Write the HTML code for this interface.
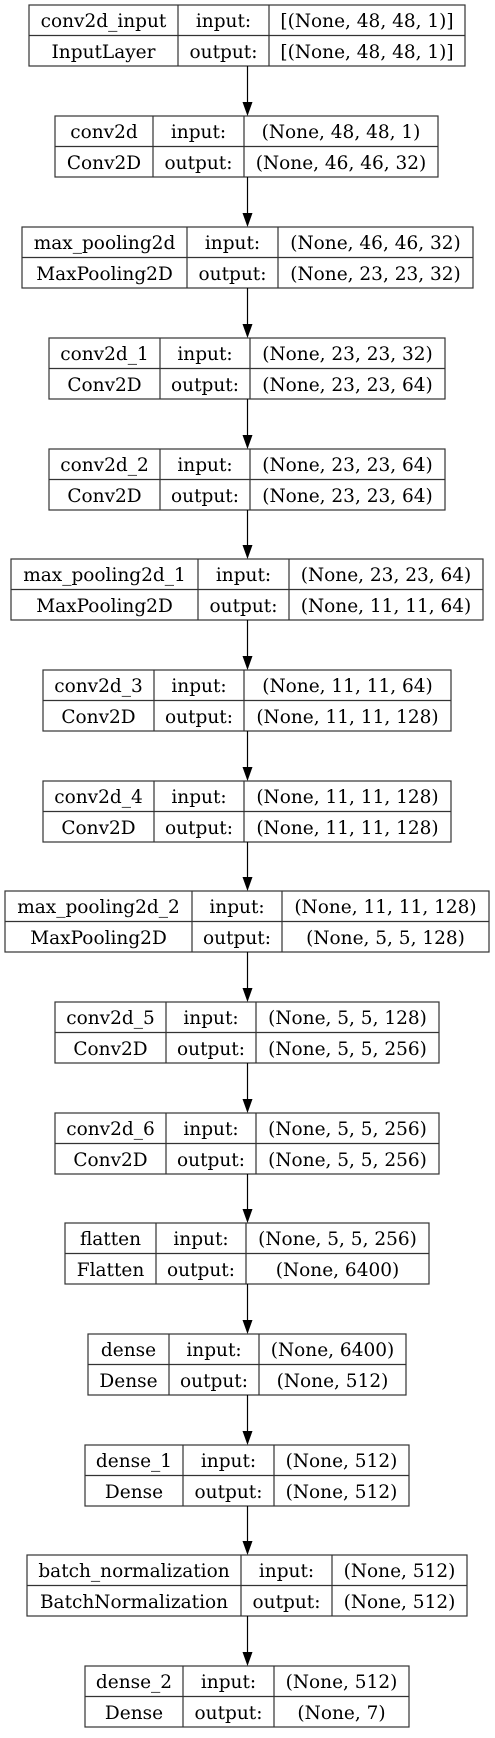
<!DOCTYPE html>
<html><head><meta charset="utf-8"><style>
html,body{margin:0;padding:0;background:#fff;}
svg text{font-family:"DejaVu Serif","Liberation Serif",serif;font-size:18.5px;fill:#000;text-anchor:middle;}
</style></head><body>
<svg id="s" width="495" height="1733" viewBox="0 0 495 1733" xmlns="http://www.w3.org/2000/svg">
<g id="g" stroke="#333" stroke-width="1.2" fill="none"></g>
<g id="t"></g>
<g id="a"></g>
</svg>
<script>
var boxes=[
[5,29,465,178,269,"conv2d_input","InputLayer","[(None, 48, 48, 1)]","[(None, 48, 48, 1)]"],
[116,55,438,153,244,"conv2d","Conv2D","(None, 48, 48, 1)","(None, 46, 46, 32)"],
[227,22,473,187,278,"max_pooling2d","MaxPooling2D","(None, 46, 46, 32)","(None, 23, 23, 32)"],
[338,49,445,160,250,"conv2d_1","Conv2D","(None, 23, 23, 32)","(None, 23, 23, 64)"],
[449,49,445,160,250,"conv2d_2","Conv2D","(None, 23, 23, 64)","(None, 23, 23, 64)"],
[559,11,483,198,289,"max_pooling2d_1","MaxPooling2D","(None, 23, 23, 64)","(None, 11, 11, 64)"],
[670,43,451,154,244,"conv2d_3","Conv2D","(None, 11, 11, 64)","(None, 11, 11, 128)"],
[781,43,451,154,244,"conv2d_4","Conv2D","(None, 11, 11, 128)","(None, 11, 11, 128)"],
[891,5,489,192,282,"max_pooling2d_2","MaxPooling2D","(None, 11, 11, 128)","(None, 5, 5, 128)"],
[1002,55,439,166,256,"conv2d_5","Conv2D","(None, 5, 5, 128)","(None, 5, 5, 256)"],
[1113,55,439,166,256,"conv2d_6","Conv2D","(None, 5, 5, 256)","(None, 5, 5, 256)"],
[1223,65,429,156,246,"flatten","Flatten","(None, 5, 5, 256)","(None, 6400)"],
[1334,88,406,169,259,"dense","Dense","(None, 6400)","(None, 512)"],
[1445,85,409,183,274,"dense_1","Dense","(None, 512)","(None, 512)"],
[1555,27,467,241,332,"batch_normalization","BatchNormalization","(None, 512)","(None, 512)"],
[1666,85,409,183,274,"dense_2","Dense","(None, 512)","(None, 7)"]
];
var NS="http://www.w3.org/2000/svg",g=document.getElementById('g'),t=document.getElementById('t'),a=document.getElementById('a');
function el(p,n,at,txt){var e=document.createElementNS(NS,n);for(var k in at)e.setAttribute(k,at[k]);if(txt)e.textContent=txt;p.appendChild(e);return e;}
boxes.forEach(function(b,i){
 var y=b[0],x1=b[1],x2=b[2],d1=b[3],d2=b[4],H=61;
 el(g,'rect',{x:x1,y:y,width:x2-x1,height:H});
 el(g,'line',{x1:x1,y1:y+H/2,x2:x2,y2:y+H/2});
 el(g,'line',{x1:d1,y1:y,x2:d1,y2:y+H});
 el(g,'line',{x1:d2,y1:y,x2:d2,y2:y+H});
 var c1=(x1+d1)/2,c2=(d1+d2)/2,c3=(d2+x2)/2;
 el(t,'text',{x:c1,y:y+22},b[5]);el(t,'text',{x:c2,y:y+22},"input:");el(t,'text',{x:c3,y:y+22},b[7]);
 el(t,'text',{x:c1,y:y+53},b[6]);el(t,'text',{x:c2,y:y+53},"output:");el(t,'text',{x:c3,y:y+53},b[8]);
 if(i>0){var py=boxes[i-1][0]+61;
  el(a,'line',{x1:247.5,y1:py,x2:247.5,y2:y-13,stroke:"#000","stroke-width":1.2});
  el(a,'polygon',{points:"242.5,"+(y-14)+" 252.5,"+(y-14)+" 247.5,"+y,fill:"#000"});}
});
</script>
</body></html>
